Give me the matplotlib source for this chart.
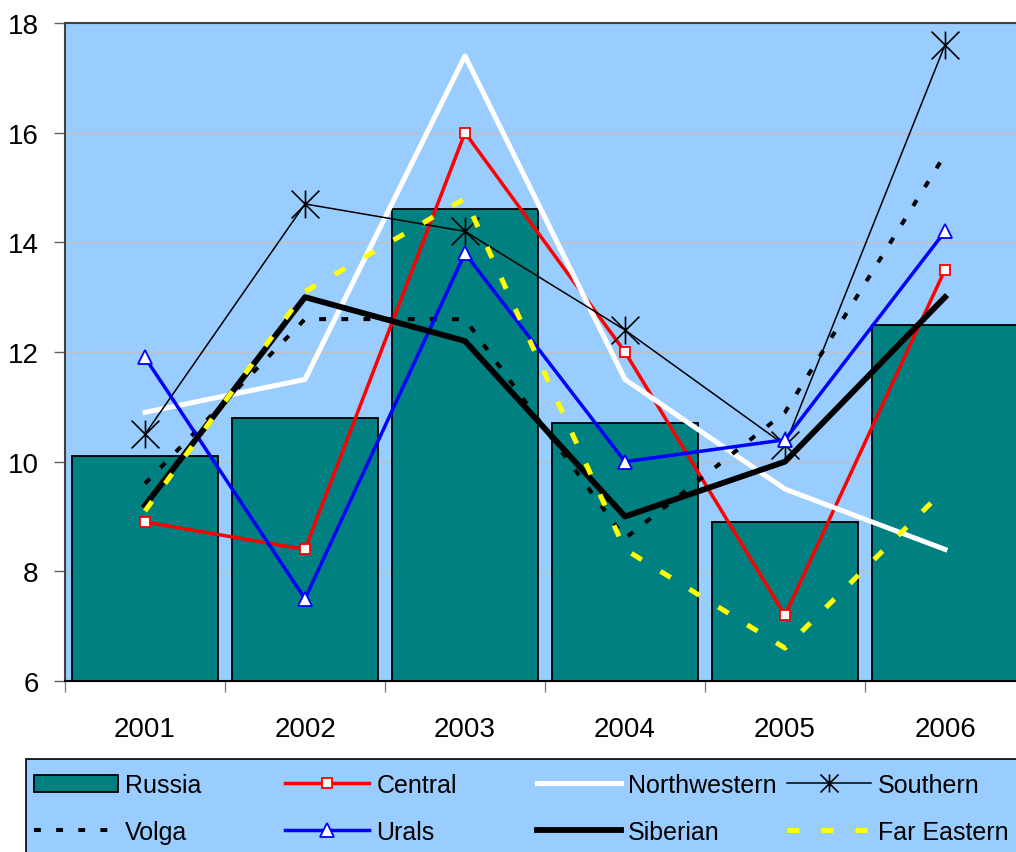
import numpy as np
import matplotlib
matplotlib.use('Agg')
import matplotlib.pyplot as plt
from matplotlib.path import Path
from matplotlib.patches import Rectangle

plt.rcParams['font.family'] = ['Liberation Sans', 'DejaVu Sans']

years = ['2001', '2002', '2003', '2004', '2005', '2006']
russia = [10.1, 10.8, 14.6, 10.7, 8.9, 12.5]
central = [8.9, 8.4, 16.0, 12.0, 7.2, 13.5]
northwestern = [10.9, 11.5, 17.4, 11.5, 9.5, 8.4]
southern = [10.5, 14.7, 14.2, 12.4, 10.3, 17.6]
volga = [9.6, 12.6, 12.6, 8.6, 10.9, 15.6]
urals = [11.9, 7.5, 13.8, 10.0, 10.4, 14.2]
siberian = [9.2, 13.0, 12.2, 9.0, 10.0, 13.0]
far_eastern = [9.1, 13.1, 14.8, 8.4, 6.6, 9.5]

labels = ['Russia', 'Central', 'Northwestern', 'Southern',
          'Volga', 'Urals', 'Siberian', 'Far Eastern']

W, H = 1016, 853
BG = '#99CCFF'

# Excel style star: an X with a vertical bar through it
star = Path([(0, -1), (0, 1), (-1, -1), (1, 1), (-1, 1), (1, -1)],
            [Path.MOVETO, Path.LINETO] * 3)

fig = plt.figure(figsize=(W / 100, H / 100), dpi=100)
ax = fig.add_axes([65 / W, 1 - 682 / H, 960 / W, 658 / H])
ax.set_facecolor(BG)

x = np.arange(len(years))
bars = ax.bar(x, russia, 0.91, color='#008080', edgecolor='black', linewidth=1.3, zorder=2)

l_central, = ax.plot(x, central, color='red', lw=2.5, marker='s', ms=7.5,
                     mfc='white', mec='red', mew=1.3, zorder=3)
l_nw, = ax.plot(x, northwestern, color='white', lw=3.6, zorder=3)
l_south, = ax.plot(x, southern, color='black', lw=1.1, marker=star, ms=20,
                   mfc='none', mec='black', mew=1.2, zorder=3)
l_volga, = ax.plot(x, volga, color='black', lw=2.9, ls=(0, (1.7, 3.8)), zorder=3)
l_urals, = ax.plot(x, urals, color='blue', lw=2.5, marker='^', ms=10.5,
                   mfc='white', mec='blue', mew=1.3, zorder=3)
l_sib, = ax.plot(x, siberian, color='black', lw=4.2, zorder=3)
l_fe, = ax.plot(x, far_eastern, color='yellow', lw=3.6, ls=(0, (2.4, 4.4)), zorder=3)

ax.set_xlim(-0.5, 5.5)
ax.set_ylim(6, 18)
ax.set_yticks(range(6, 19, 2))
ax.set_xticks(x, years)
ax.set_xticks(np.arange(-0.5, 6, 1), minor=True)
ax.yaxis.grid(True, color='#C0C0C0', lw=1)
ax.set_axisbelow(True)

ax.tick_params(axis='x', which='major', length=0, pad=25, labelsize=20)
ax.tick_params(axis='x', which='minor', length=8, width=1, color='#808080')
ax.tick_params(axis='y', length=8, width=1, color='#606060', pad=11, labelsize=20)
for side in ['left', 'top']:
    ax.spines[side].set_color('#404040')
    ax.spines[side].set_linewidth(1.5)
ax.spines['bottom'].set_color('black')
ax.spines['bottom'].set_linewidth(1.5)

# legend box below the chart, running off the right and bottom edges
fig.add_artist(Rectangle((26 / W, -0.1), 1.0, 93 / H + 0.1, transform=fig.transFigure,
                         facecolor=BG, edgecolor='black', lw=1.2))

handles = [bars, l_central, l_nw, l_south, l_volga, l_urals, l_sib, l_fe]
cols = [34, 285, 537, 787]
rows = [786, 833]
for i, (h, lab) in enumerate(zip(handles, labels)):
    col, row = i % 4, i // 4
    scale = 0.65 if h is l_south else 1.0   # the star is drawn smaller in the key
    fig.legend([h], [lab], loc='center left',
               bbox_to_anchor=(cols[col] / W, 1 - rows[row] / H),
               frameon=False, borderpad=0, borderaxespad=0, markerscale=scale,
               handlelength=3.35, handletextpad=0.3, fontsize=18)

fig.savefig('out.png', dpi=100)
